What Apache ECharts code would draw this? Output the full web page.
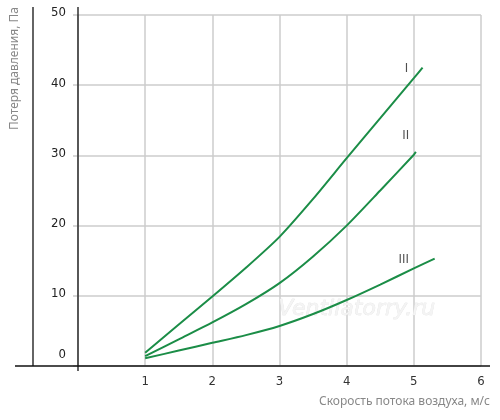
<!DOCTYPE html>
<html><head><meta charset="utf-8">
<script src="https://cdn.jsdelivr.net/npm/echarts@6/dist/echarts.min.js"></script>
<style>html,body{margin:0;padding:0;background:#fff}#c{width:500px;height:420px}</style>
</head><body><div id="c"></div>
<script>
const curveI = [[1,1.9],[1.5,5.9],[2,9.9],[2.5,14.0],[3,18.4],[3.5,23.8],[4,29.6],[4.5,35.3],[5,41.0],[5.13,42.5]];
const curveII = [[1,1.4],[1.5,3.8],[2,6.2],[2.5,8.8],[3,11.8],[3.5,15.6],[4,20.0],[4.5,25.0],[5,30.1],[5.03,30.5]];
const curveIII = [[1,1.1],[1.5,2.2],[2,3.3],[2.5,4.4],[3,5.7],[3.5,7.4],[4,9.4],[4.5,11.6],[5,13.9],[5.31,15.3]];
const curveLabels = [[4.89,42.4,'I'],[4.88,32.8,'II'],[4.85,15.1,'III']];
const xTicks = [0,1,2,3,4,5,6];
const yTicks = [0,10,20,30,40,50];
const xName = 'Скорость потока воздуха, м/с';
const yName = 'Потеря давления, Па';
const watermark = 'Ventilatorry.ru';

const narrow = "'Liberation Sans Narrow','DejaVu Sans Condensed',sans-serif";
const green = '#1b8d47';
const chart = echarts.init(document.getElementById('c'));
function lineSeries(d){
  return {type:'line', data:d, smooth:0.25, symbol:'none', lineStyle:{color:green,width:2}, z:3};
}
chart.setOption({
  animation:false,
  grid:{left:78,right:19,top:15,bottom:54},
  xAxis:{type:'value',min:xTicks[0],max:xTicks[xTicks.length-1],interval:1,
    axisLine:{show:false},axisTick:{show:false},
    splitLine:{lineStyle:{color:'#cccccc',width:1.5}},
    axisLabel:{margin:9,color:'#333',fontSize:13,fontFamily:narrow,formatter:v=>v===0?'':String(v)}},
  yAxis:{type:'value',min:yTicks[0],max:yTicks[yTicks.length-1],interval:10,
    axisLine:{show:false},
    axisTick:{show:true,length:5,lineStyle:{color:'#cccccc',width:1.5}},
    splitLine:{lineStyle:{color:'#cccccc',width:1.5}},
    axisLabel:{margin:12,color:'#222',fontSize:13,fontFamily:narrow,
      formatter:v=>v===0?'{z|0}':'{n|'+v+'}',
      rich:{z:{padding:[0,0,22,0],fontSize:13,fontFamily:narrow,color:'#222'},
            n:{padding:[0,0,4,0],fontSize:13,fontFamily:narrow,color:'#222'}}}},
  series:[
    lineSeries(curveI), lineSeries(curveII), lineSeries(curveIII),
    {type:'scatter',symbolSize:0,data:curveLabels,z:4,
     label:{show:true,position:'inside',formatter:p=>p.data[2],color:'#222',fontSize:13,fontFamily:narrow}}
  ],
  graphic:[
    {type:'text',left:278,top:298,z:1,silent:true,
     style:{text:watermark,font:'italic 22px "DejaVu Sans"',fill:'#f4f4f4',stroke:'#e0e0e0',lineWidth:0.5}},
    {type:'line',z:10,shape:{x1:15,y1:366,x2:490,y2:366},style:{stroke:'#111',lineWidth:1.3}},
    {type:'line',z:10,shape:{x1:78,y1:7,x2:78,y2:371},style:{stroke:'#111',lineWidth:1.3}},
    {type:'line',z:10,shape:{x1:33,y1:7,x2:33,y2:366},style:{stroke:'#111',lineWidth:1.3}},
    {type:'text',z:10,x:490,y:402,style:{text:xName,fill:'#888',font:'12px "Noto Sans"',align:'right',verticalAlign:'middle'}},
    {type:'text',z:10,x:15,y:7,rotation:Math.PI/2,style:{text:yName,fill:'#888',font:'12px "Noto Sans"',align:'right',verticalAlign:'middle'}}
  ]
});
</script></body></html>
